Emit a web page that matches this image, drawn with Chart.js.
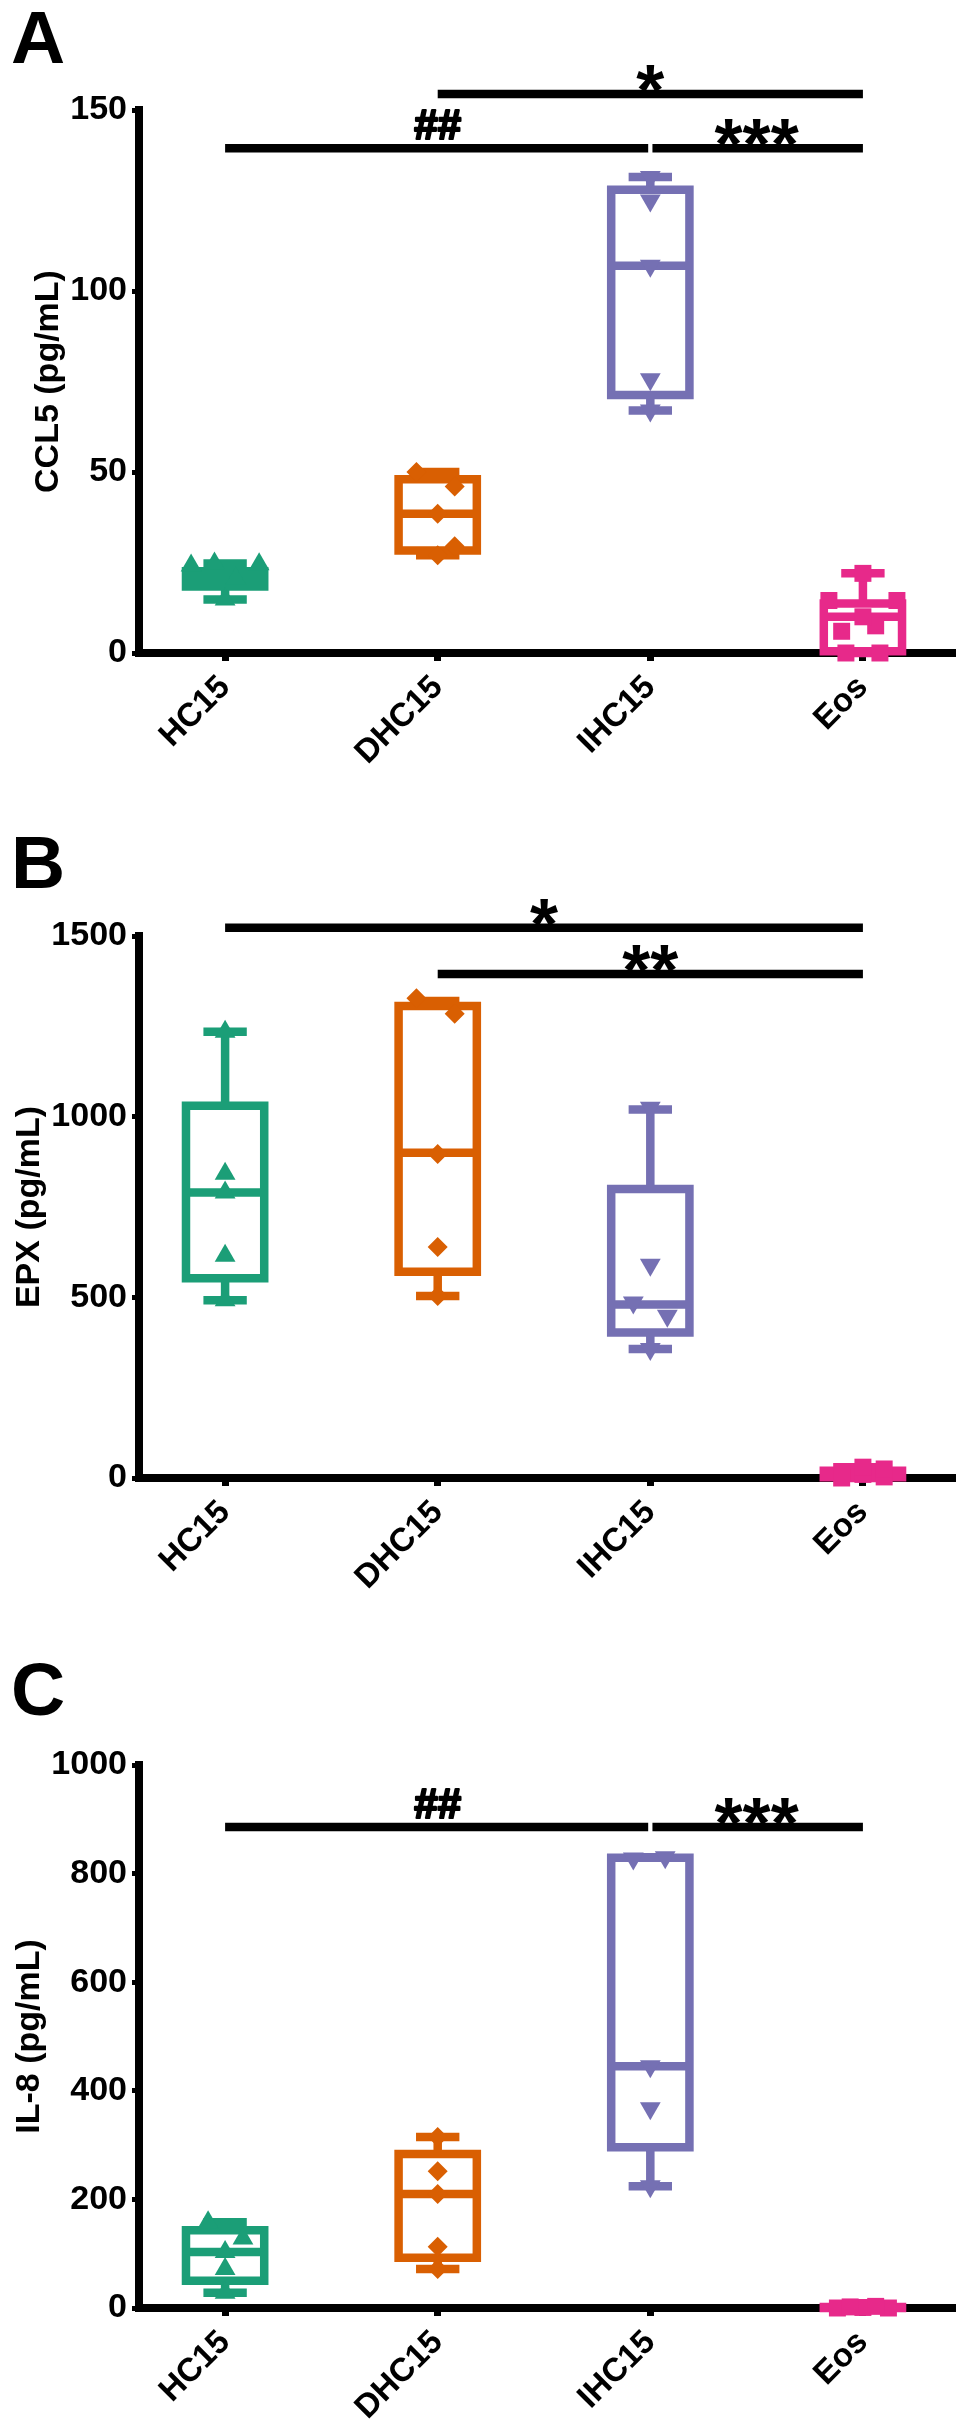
<!DOCTYPE html>
<html>
<head>
<meta charset="utf-8">
<script src="https://cdn.jsdelivr.net/npm/chart.js@4.4.1/dist/chart.umd.min.js"></script>
<style>
html,body{margin:0;padding:0;background:#fff;}
body{width:964px;height:2436px;position:relative;overflow:hidden;}
.panel{position:absolute;left:0;}
.letter{position:absolute;left:11px;font:bold 75px/75px "Liberation Sans",Arial,sans-serif;color:#000;}
canvas{display:block;}
</style>
</head>
<body>
<div class="letter" style="top:0px">A</div>
<div class="letter" style="top:825px">B</div>
<div class="letter" style="top:1652px">C</div>
<div class="panel" style="top:0px"><canvas id="chartA" width="964" height="826"></canvas></div>
<div class="panel" style="top:826px"><canvas id="chartB" width="964" height="829"></canvas></div>
<div class="panel" style="top:1655px"><canvas id="chartC" width="964" height="781"></canvas></div>
<script>
// ---------- shared categories ----------
const categories = ["HC15", "DHC15", "IHC15", "Eos"];

// ---------- Panel A : CCL5 (pg/mL) ----------
const ccl5Ticks = [0, 50, 100, 150];
const ccl5_HC15 = [14.8, 20.5, 24.2, 24.5, 24.7];
const ccl5_DHC15 = [27, 29.5, 38.5, 46, 50];
const ccl5_IHC15 = [67, 75.6, 107, 125, 131.5];
const ccl5_Eos = [0, 0, 6, 7.5, 10, 14.5, 14.5, 22];
const ccl5Min = [14.8, 27, 67, 0];
const ccl5Q1 = [18.4, 28.3, 71.3, 0.5];
const ccl5Median = [20.5, 38.5, 107, 10];
const ccl5Q3 = [22.6, 48, 128, 13.7];
const ccl5Max = [24.7, 50, 131.5, 22];
const ccl5SigText = ["##", "***", "*"];
const ccl5SigFrom = [0, 2, 1];
const ccl5SigTo = [2, 3, 3];
const ccl5SigLevel = [139.4, 139.4, 154.4];

// ---------- Panel B : EPX (pg/mL) ----------
const epxTicks = [0, 500, 1000, 1500];
const epx_HC15 = [492, 615, 790, 842, 1235];
const epx_DHC15 = [504, 639, 897, 1285, 1328];
const epx_IHC15 = [357, 449, 486, 590, 1025];
const epx_Eos = [0, 3, 10, 18, 25, 30];
const epxMin = [492, 504, 357, 0];
const epxQ1 = [553, 571, 403, 2];
const epxMedian = [790, 900, 480, 10];
const epxQ3 = [1030, 1306, 800, 20];
const epxMax = [1235, 1320, 1020, 30];
const epxSigText = ["*", "**"];
const epxSigFrom = [0, 1];
const epxSigTo = [3, 3];
const epxSigLevel = [1523, 1395];

// ---------- Panel C : IL-8 (pg/mL) ----------
const il8Ticks = [0, 200, 400, 600, 800, 1000];
const il8_HC15 = [28, 72, 103, 128, 158];
const il8_DHC15 = [72, 113, 210, 252, 315];
const il8_IHC15 = [224, 368, 445, 828, 830];
const il8_Eos = [0, 0, 1, 2, 3];
const il8Min = [28, 72, 224, 0];
const il8Q1 = [50, 92.5, 296, 0];
const il8Median = [103, 210, 445, 1];
const il8Q3 = [143, 283.5, 829, 2];
const il8Max = [158, 315, 830, 3];
const il8SigText = ["##", "***"];
const il8SigFrom = [0, 2];
const il8SigTo = [2, 3];
const il8SigLevel = [886, 886];

// ---------- styling (not data) ----------
const groupColors = ["#1b9e77", "#d95f02", "#7570b3", "#e7298a"];
const markerStyles = ["triangle", "rectRot", "triangle", "rect"];
const markerRotation = [0, 0, 180, 0];
const markerRadius = [12, 10, 12, 12];
// horizontal dodge of overlapping points (category units)
const dodgeA = [[0, 0.05, -0.16, 0.16, -0.05], [0, 0.08, 0, 0.08, -0.1], [0, 0, 0, 0, 0], [-0.08, 0.08, -0.1, 0.06, 0, -0.16, 0.16, 0]];
const dodgeB = [[0, 0, 0, 0, 0], [0, 0, 0, 0.08, -0.1], [0, 0.08, -0.08, 0, 0], [-0.1, 0.1, 0, -0.1, 0.1, 0]];
const dodgeC = [[0, 0, 0, 0.084, -0.08], [0, 0, 0, 0, 0], [0, 0, 0, -0.08, 0.07], [-0.12, 0.12, 0, -0.06, 0.06]];

const FONT = '"Liberation Sans", Arial, Helvetica, sans-serif';
const X_MIN = -0.405, X_MAX = 3.419;
const BOX_HALF = 0.184, CAP_HALF = 0.102, SIG_GAP = 0.01;
const LINE_W = 8.5;

function gapPt(i) { return {x: i, y: null}; }

function boxData(i, mn, q1, md, q3, mx) {
  return [
    {x: i, y: q1}, {x: i + BOX_HALF, y: q1}, {x: i + BOX_HALF, y: q3}, {x: i - BOX_HALF, y: q3}, {x: i - BOX_HALF, y: q1}, {x: i, y: q1}, gapPt(i),
    {x: i - BOX_HALF, y: md}, {x: i + BOX_HALF, y: md}, gapPt(i),
    {x: i, y: q3}, {x: i, y: mx}, gapPt(i),
    {x: i, y: q1}, {x: i, y: mn}, gapPt(i),
    {x: i - CAP_HALF, y: mx}, {x: i + CAP_HALF, y: mx}, gapPt(i),
    {x: i - CAP_HALF, y: mn}, {x: i + CAP_HALF, y: mn}
  ];
}

function sigPlugin(texts, from, to, level) {
  return {
    id: 'sigLabels',
    afterDatasetsDraw(chart) {
      const ctx = chart.ctx, xs = chart.scales.x, ys = chart.scales.y;
      ctx.save();
      ctx.fillStyle = '#000';
      ctx.strokeStyle = '#000';
      ctx.lineJoin = 'round';
      ctx.textAlign = 'center';
      ctx.textBaseline = 'alphabetic';
      texts.forEach((t, k) => {
        const px = (xs.getPixelForValue(from[k]) + xs.getPixelForValue(to[k])) / 2;
        const py = ys.getPixelForValue(level[k]);
        const star = t.indexOf('*') >= 0;
        ctx.font = 'bold ' + (star ? 72 : 42) + 'px ' + FONT;
        const ty = star ? py + 21 : py - 9;
        if (!star) { ctx.lineWidth = 2.2; ctx.strokeText(t, px, ty); }
        ctx.fillText(t, px, ty);
      });
      ctx.restore();
    }
  };
}

function makePanel(id, cfg) {
  const datasets = [];
  // points on top (dataset 0 drawn last)
  cfg.points.forEach((vals, i) => {
    datasets.push({
      type: 'scatter',
      data: vals.map((v, k) => ({x: i + cfg.dodge[i][k], y: v})),
      pointStyle: markerStyles[i],
      rotation: markerRotation[i],
      pointRadius: markerRadius[i],
      pointHoverRadius: markerRadius[i],
      backgroundColor: groupColors[i],
      borderColor: groupColors[i],
      borderWidth: 0,
      clip: false
    });
  });
  // box & whiskers
  categories.forEach((c, i) => {
    datasets.push({
      type: 'scatter',
      showLine: true,
      spanGaps: false,
      data: boxData(i, cfg.min[i], cfg.q1[i], cfg.med[i], cfg.q3[i], cfg.max[i]),
      borderColor: groupColors[i],
      borderWidth: LINE_W,
      borderCapStyle: 'butt',
      borderJoinStyle: 'miter',
      pointRadius: 0,
      pointHoverRadius: 0,
      tension: 0,
      clip: false
    });
  });
  // significance bars
  cfg.sigText.forEach((t, k) => {
    let a = cfg.sigFrom[k], b = cfg.sigTo[k];
    cfg.sigText.forEach((t2, m) => {
      if (m !== k && cfg.sigLevel[m] === cfg.sigLevel[k]) {
        if (cfg.sigFrom[m] === b) b -= SIG_GAP;
        if (cfg.sigTo[m] === a) a += SIG_GAP;
      }
    });
    datasets.push({
      type: 'scatter',
      showLine: true,
      data: [{x: a, y: cfg.sigLevel[k]}, {x: b, y: cfg.sigLevel[k]}],
      borderColor: '#000',
      borderWidth: LINE_W,
      borderCapStyle: 'butt',
      pointRadius: 0,
      pointHoverRadius: 0,
      clip: false
    });
  });

  const yTicks = cfg.ticks;
  return new Chart(document.getElementById(id), {
    type: 'scatter',
    data: {datasets},
    plugins: [sigPlugin(cfg.sigText, cfg.sigFrom, cfg.sigTo, cfg.sigLevel)],
    options: {
      responsive: false,
      animation: false,
      events: [],
      layout: {padding: {top: 110, left: cfg.padLeft, right: 3, bottom: 0}},
      plugins: {legend: {display: false}, tooltip: {enabled: false}},
      scales: {
        x: {
          type: 'linear',
          min: X_MIN,
          max: X_MAX,
          afterBuildTicks: s => { s.ticks = categories.map((c, i) => ({value: i})); },
          afterFit: s => { s.height = cfg.xHeight; },
          border: {display: true, color: '#000', width: 8},
          grid: {display: true, drawOnChartArea: false, drawTicks: true, tickLength: 8, tickWidth: 7, tickColor: '#000', lineWidth: 7, color: '#000'},
          ticks: {
            autoSkip: false, maxRotation: 45, minRotation: 45, padding: 7, color: '#000',
            font: {family: FONT, size: 33, weight: 'bold'},
            callback: v => categories[v]
          }
        },
        y: {
          type: 'linear',
          min: yTicks[0],
          max: yTicks[yTicks.length - 1],
          afterBuildTicks: s => { s.ticks = yTicks.map(v => ({value: v})); },
          afterFit: s => { s.width = 139 - cfg.padLeft; },
          border: {display: true, color: '#000', width: 8},
          grid: {display: true, drawOnChartArea: false, drawTicks: true, tickLength: 7, tickWidth: 5, tickColor: '#000', lineWidth: 5, color: '#000'},
          ticks: {padding: 5, color: '#000', font: {family: FONT, size: 34, weight: 'bold'}, callback: v => String(v)},
          title: {display: true, text: cfg.title, color: '#000', font: {family: FONT, size: 34, weight: 'bold'}, padding: {top: 9, bottom: 0}}
        }
      }
    }
  });
}

makePanel('chartA', {
  title: 'CCL5 (pg/mL)', ticks: ccl5Ticks, padLeft: 19, xHeight: 173,
  points: [ccl5_HC15, ccl5_DHC15, ccl5_IHC15, ccl5_Eos], dodge: dodgeA,
  min: ccl5Min, q1: ccl5Q1, med: ccl5Median, q3: ccl5Q3, max: ccl5Max,
  sigText: ccl5SigText, sigFrom: ccl5SigFrom, sigTo: ccl5SigTo, sigLevel: ccl5SigLevel
});
makePanel('chartB', {
  title: 'EPX (pg/mL)', ticks: epxTicks, padLeft: 0, xHeight: 177,
  points: [epx_HC15, epx_DHC15, epx_IHC15, epx_Eos], dodge: dodgeB,
  min: epxMin, q1: epxQ1, med: epxMedian, q3: epxQ3, max: epxMax,
  sigText: epxSigText, sigFrom: epxSigFrom, sigTo: epxSigTo, sigLevel: epxSigLevel
});
makePanel('chartC', {
  title: 'IL-8 (pg/mL)', ticks: il8Ticks, padLeft: 0, xHeight: 128,
  points: [il8_HC15, il8_DHC15, il8_IHC15, il8_Eos], dodge: dodgeC,
  min: il8Min, q1: il8Q1, med: il8Median, q3: il8Q3, max: il8Max,
  sigText: il8SigText, sigFrom: il8SigFrom, sigTo: il8SigTo, sigLevel: il8SigLevel
});
</script>
</body>
</html>
